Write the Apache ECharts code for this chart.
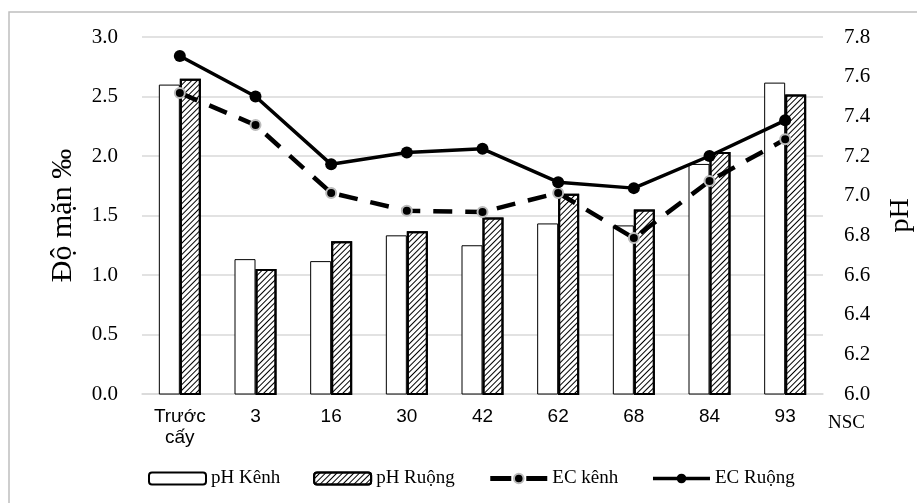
<!DOCTYPE html>
<html><head><meta charset="utf-8">
<script src="https://cdn.jsdelivr.net/npm/echarts@6/dist/echarts.min.js"></script>
<style>html,body{margin:0;padding:0;background:#fff}#c{width:917px;height:503px}</style>
</head><body><div id="c"></div>
<script>
const categories = ['Trước\ncấy', '3', '16', '30', '42', '62', '68', '84', '93'];
const phKenh = [7.56, 6.68, 6.67, 6.80, 6.75, 6.86, 6.85, 7.16, 7.57];
const phRuong = [7.59, 6.63, 6.77, 6.82, 6.89, 7.01, 6.93, 7.22, 7.51];
const ecKenh = [2.53, 2.26, 1.69, 1.54, 1.53, 1.69, 1.31, 1.79, 2.14];
const ecRuong = [2.84, 2.50, 1.93, 2.03, 2.06, 1.78, 1.73, 2.00, 2.30];

const serif = '"Liberation Serif", "DejaVu Serif", serif';
const sans = '"Liberation Sans", Arial, sans-serif';
const chart = echarts.init(document.getElementById('c'), null, {renderer: 'canvas'});
chart.setOption({
  backgroundColor: '#fff',
  animation: false,
  graphic: [{
    type: 'rect', shape: {x: 9, y: 12, width: 930, height: 520},
    style: {fill: 'none', stroke: '#bfbfbf', lineWidth: 1.5}, z: -1
  }],
  grid: {left: 142, right: 94, top: 37, bottom: 109, containLabel: false, outerBoundsMode: 'none'},
  legend: {
    bottom: 10, left: 143, itemWidth: 57, itemHeight: 12, itemGap: 33,
    textStyle: {fontFamily: serif, fontSize: 19, color: '#000'},
    data: [
      {name: 'pH Kênh'},
      {name: 'pH Ruộng'},
      {name: 'EC kênh', lineStyle: {width: 5, type: [21, 15], color: '#000'}},
      {name: 'EC Ruộng', lineStyle: {width: 3.5, color: '#000'}}
    ]
  },
  xAxis: {
    type: 'category', data: categories,
    axisLine: {show: true, lineStyle: {color: '#d9d9d9', width: 1.5}},
    axisTick: {show: false},
    axisLabel: {fontFamily: sans, fontSize: 19, color: '#000', margin: 12, lineHeight: 21},
    name: 'NSC', nameLocation: 'end', nameGap: 5,
    nameTextStyle: {fontFamily: serif, fontSize: 19, color: '#000', verticalAlign: 'top', padding: [20, 0, 0, 0]}
  },
  yAxis: [{
    type: 'value', min: 0, max: 3, interval: 0.5, position: 'left',
    name: 'Độ mặn ‰', nameLocation: 'middle', nameGap: 64, nameRotate: 90,
    nameTextStyle: {fontFamily: serif, fontSize: 30, color: '#000'},
    axisLine: {show: false}, axisTick: {show: false},
    axisLabel: {fontFamily: serif, fontSize: 21, color: '#000', margin: 24, formatter: v => v.toFixed(1)},
    splitLine: {show: true, lineStyle: {color: '#d9d9d9', width: 1.5}}
  }, {
    type: 'value', min: 6, max: 7.8, interval: 0.2, position: 'right',
    name: 'pH', nameLocation: 'middle', nameGap: 64, nameRotate: 90,
    nameTextStyle: {fontFamily: serif, fontSize: 28, color: '#000'},
    axisLine: {show: false}, axisTick: {show: false},
    axisLabel: {fontFamily: serif, fontSize: 21, color: '#000', margin: 21, formatter: v => v.toFixed(1)},
    splitLine: {show: false}
  }],
  series: [{
    name: 'pH Kênh', type: 'bar', yAxisIndex: 1, data: phKenh,
    barWidth: 21, barGap: '0%',
    itemStyle: {color: '#fff', borderColor: '#000', borderWidth: 1}
  }, {
    name: 'pH Ruộng', type: 'bar', yAxisIndex: 1, data: phRuong,
    barWidth: 21, barGap: '0%',
    itemStyle: {
      color: '#fff', borderColor: '#000', borderWidth: 2,
      decal: {symbol: 'rect', symbolSize: 1, color: '#000', dashArrayX: [1, 0], dashArrayY: [1, 3], rotation: -Math.PI / 4}
    }
  }, {
    name: 'EC kênh', type: 'line', yAxisIndex: 0, data: ecKenh,
    symbol: 'circle', symbolSize: 10,
    lineStyle: {color: '#000', width: 4.5, type: [19, 13]},
    itemStyle: {color: '#000', borderColor: '#bbb', borderWidth: 2},
    z: 5
  }, {
    name: 'EC Ruộng', type: 'line', yAxisIndex: 0, data: ecRuong,
    symbol: 'circle', symbolSize: 12,
    lineStyle: {color: '#000', width: 3.5},
    itemStyle: {color: '#000'},
    z: 6
  }]
});
</script></body></html>
